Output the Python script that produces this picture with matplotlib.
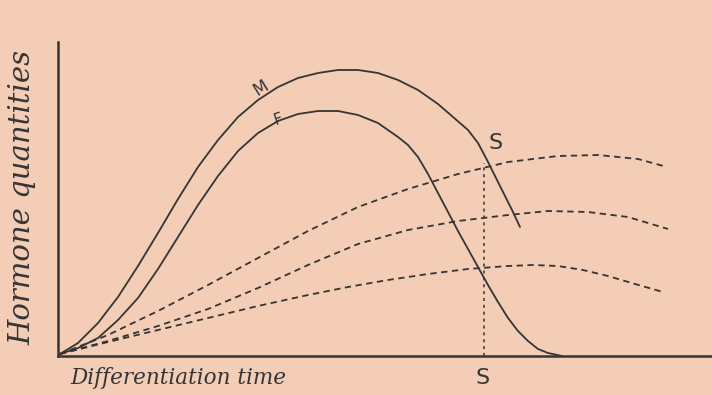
import matplotlib.pyplot as plt
import numpy as np

# curves (time, quantity); origin at the axes corner
m_x = [2, 20, 40, 60, 80, 100, 120, 140, 160, 180, 200, 220, 240, 260, 280, 300, 320, 340, 360, 380, 395, 410, 420, 429, 437, 445, 454, 462]
m_y = [2, 13, 33, 59, 90, 123, 157, 189, 216, 239, 256, 269, 278, 283, 286, 286, 283, 276, 266, 252, 239, 226, 213, 196, 180, 164, 146, 129]

f_x = [2, 20, 40, 60, 80, 100, 120, 140, 160, 180, 200, 220, 240, 260, 280, 300, 320, 340, 350, 360, 370, 380, 390, 400, 410, 420, 430, 440, 450, 460, 470, 480, 490, 504]
f_y = [2, 8, 18, 36, 58, 87, 119, 151, 180, 205, 223, 235, 242, 245, 245, 241, 233, 219, 211, 199, 182, 163, 144, 125, 107, 89, 71, 54, 38, 25, 15, 7, 3, 0]

d1_x = [2, 50, 100, 150, 200, 250, 300, 350, 400, 450, 500, 540, 580, 609]
d1_y = [2, 21, 45, 71, 98, 125, 149, 167, 182, 194, 200, 201, 197, 189]

d2_x = [2, 50, 100, 150, 200, 250, 300, 350, 400, 450, 490, 530, 570, 610]
d2_y = [2, 15, 30, 47, 68, 91, 112, 126, 135, 141, 145, 144, 139, 127]

d3_x = [2, 50, 100, 150, 200, 250, 290, 330, 370, 410, 450, 475, 500, 525, 550, 577, 605]
d3_y = [2, 14, 26, 38, 50, 61, 69, 76, 82, 87, 90, 91, 90, 86, 80, 72, 64]

s_time = 426
s_top = 193

ink = '#353535'
paper = '#f3cdb6'

fig = plt.figure(figsize=(7.12, 3.95), dpi=100, facecolor=paper)
ax = fig.add_axes([58/712, 39/395, 654/712, 314/395])
ax.set_facecolor(paper)
ax.set_xlim(0, 654)
ax.set_ylim(0, 314)

ax.plot(m_x, m_y, color=ink, lw=1.3, solid_capstyle='round', solid_joinstyle='round')
ax.plot(f_x, f_y, color=ink, lw=1.3, solid_capstyle='round', solid_joinstyle='round')
for dx, dy in [(d1_x, d1_y), (d2_x, d2_y), (d3_x, d3_y)]:
    ax.plot(dx, dy, color=ink, lw=1.3, linestyle=(0, (3.5, 2.5)))
ax.plot([s_time, s_time], [0, s_top], color=ink, lw=1.1, linestyle=(0, (2, 2.5)))

ax.text(203, 268, 'M', fontsize=12, color=ink, rotation=32, ha='center', va='center')
ax.text(220, 237, 'F', fontsize=11, color=ink, rotation=18, ha='center', va='center')
ax.text(438, 213, 'S', fontsize=16, color=ink, ha='center', va='center')
ax.text(s_time - 1, -22, 'S', fontsize=16, color=ink, ha='center', va='center')

ax.text(12, -22, 'Differentiation time', fontsize=15.5, color=ink, family='DejaVu Serif',
        style='italic', ha='left', va='center')
ax.text(-36, 159, 'Hormone quantities', fontsize=21, color=ink, family='DejaVu Serif',
        style='italic', rotation=90, ha='center', va='center')

for side in ['top', 'right']:
    ax.spines[side].set_visible(False)
for side in ['left', 'bottom']:
    ax.spines[side].set_color(ink)
    ax.spines[side].set_linewidth(1.8)
ax.set_xticks([])
ax.set_yticks([])

fig.savefig('out.png', dpi=100, facecolor=paper)
